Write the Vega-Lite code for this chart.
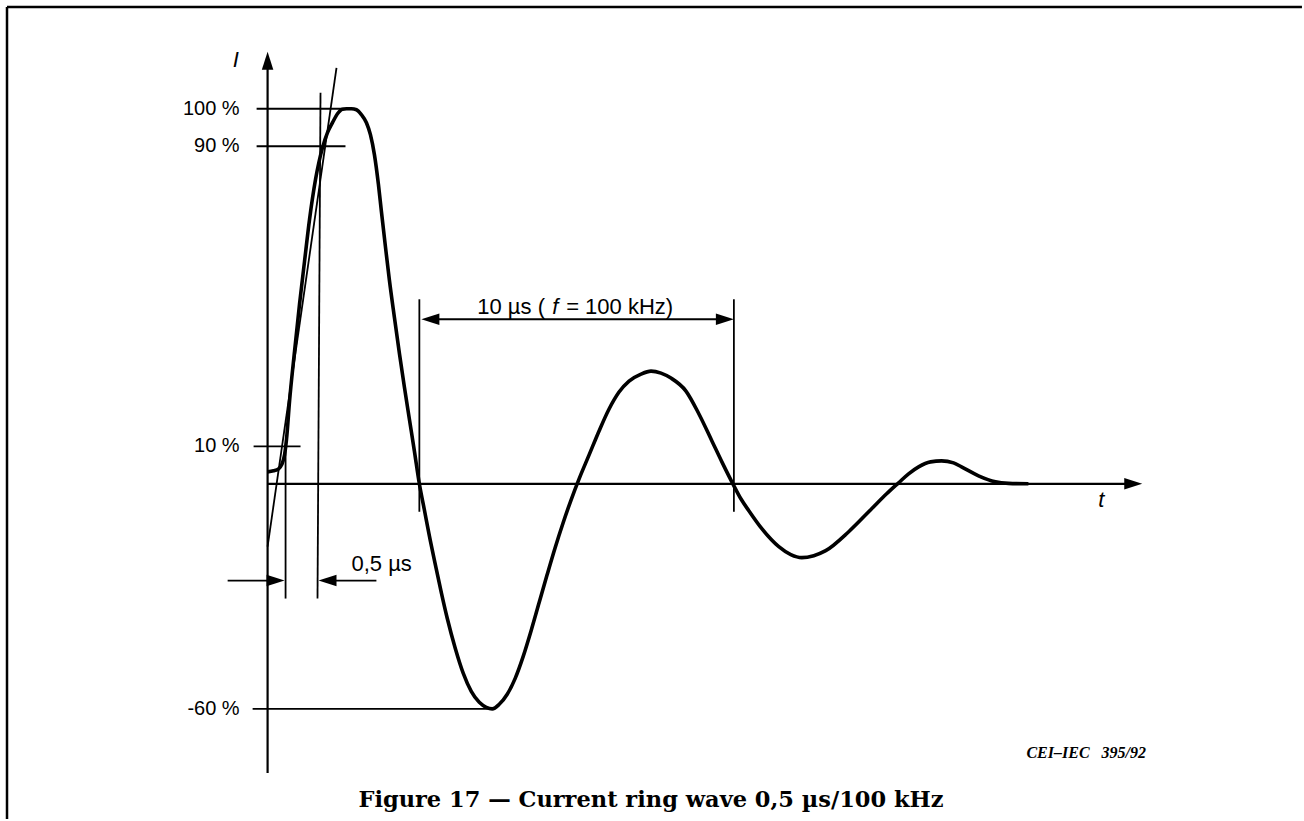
{
  "$schema": "https://vega.github.io/schema/vega-lite/v6.json",
  "width": 1304,
  "height": 821,
  "autosize": {"type": "fit", "contains": "padding"},
  "padding": 0,
  "background": "white",
  "config": {"view": {"stroke": null}},
  "datasets": {
    "frame": [
      {"x": -8.233, "y": -89.36, "x2": -8.233, "y2": 127.13},
      {"x": -8.233, "y": 127.13, "x2": 32.68, "y2": 127.13}
    ],
    "axes": [
      {"x": 0, "y": -77.13, "x2": 0, "y2": 113.03},
      {"x": 0, "y": 0, "x2": 27.19, "y2": 0}
    ],
    "guides": [
      {"x": -0.347, "y": 100, "x2": 2.650, "y2": 100},
      {"x": -0.347, "y": 90, "x2": 2.461, "y2": 90},
      {"x": -0.442, "y": 10, "x2": 1.041, "y2": 10},
      {"x": -0.473, "y": -60, "x2": 7.098, "y2": -60},
      {"x": 0, "y": -16.76, "x2": 2.177, "y2": 110.90},
      {"x": 0.568, "y": 10, "x2": 0.568, "y2": -30.59},
      {"x": 1.672, "y": 104.26, "x2": 1.577, "y2": -30.59},
      {"x": 4.795, "y": 49.20, "x2": 4.795, "y2": -7.45},
      {"x": 14.732, "y": 49.20, "x2": 14.732, "y2": -7.45},
      {"x": 5.2, "y": 43.88, "x2": 14.4, "y2": 43.88},
      {"x": -1.262, "y": -25.80, "x2": 0.3, "y2": -25.80},
      {"x": 1.85, "y": -25.80, "x2": 3.438, "y2": -25.80}
    ],
    "wave": [
      {"t": 0, "i": 3.19}, {"t": 0.189, "i": 3.46}, {"t": 0.347, "i": 3.99}, {"t": 0.442, "i": 5.05},
      {"t": 0.536, "i": 7.71}, {"t": 0.599, "i": 11.97}, {"t": 0.694, "i": 22.07}, {"t": 0.852, "i": 35.37},
      {"t": 1.009, "i": 47.87}, {"t": 1.167, "i": 59.31}, {"t": 1.325, "i": 70.48}, {"t": 1.514, "i": 81.12},
      {"t": 1.735, "i": 89.63}, {"t": 1.893, "i": 93.62}, {"t": 2.050, "i": 96.28}, {"t": 2.208, "i": 98.67},
      {"t": 2.366, "i": 99.87}, {"t": 2.492, "i": 100}, {"t": 2.650, "i": 100}, {"t": 2.808, "i": 99.73},
      {"t": 2.965, "i": 98.40}, {"t": 3.123, "i": 96.28}, {"t": 3.249, "i": 93.09}, {"t": 3.375, "i": 87.77},
      {"t": 3.502, "i": 79.79}, {"t": 3.596, "i": 72.61}, {"t": 3.722, "i": 63.30}, {"t": 3.849, "i": 54.26},
      {"t": 4.006, "i": 44.41}, {"t": 4.164, "i": 34.84}, {"t": 4.322, "i": 25.80}, {"t": 4.479, "i": 17.29},
      {"t": 4.637, "i": 8.78}, {"t": 4.795, "i": 0}, {"t": 4.953, "i": -6.91}, {"t": 5.110, "i": -13.83},
      {"t": 5.300, "i": -21.54}, {"t": 5.489, "i": -28.99}, {"t": 5.678, "i": -35.90}, {"t": 5.931, "i": -43.88},
      {"t": 6.183, "i": -50.53}, {"t": 6.435, "i": -55.32}, {"t": 6.688, "i": -58.24}, {"t": 6.909, "i": -59.57},
      {"t": 7.098, "i": -60}, {"t": 7.319, "i": -58.78}, {"t": 7.571, "i": -56.12}, {"t": 7.823, "i": -51.86},
      {"t": 8.076, "i": -46.01}, {"t": 8.328, "i": -39.10}, {"t": 8.580, "i": -31.65}, {"t": 8.833, "i": -24.20},
      {"t": 9.085, "i": -17.02}, {"t": 9.338, "i": -10.37}, {"t": 9.590, "i": -4.26}, {"t": 9.842, "i": 1.33},
      {"t": 10.158, "i": 7.71}, {"t": 10.473, "i": 14.10}, {"t": 10.789, "i": 19.95}, {"t": 11.104, "i": 24.47},
      {"t": 11.420, "i": 27.39}, {"t": 11.798, "i": 29.26}, {"t": 12.114, "i": 30.05}, {"t": 12.429, "i": 29.52},
      {"t": 12.744, "i": 28.19}, {"t": 13.218, "i": 24.73}, {"t": 13.628, "i": 18.62}, {"t": 14.038, "i": 11.44},
      {"t": 14.353, "i": 5.85}, {"t": 14.700, "i": 0}, {"t": 14.953, "i": -3.99}, {"t": 15.205, "i": -7.18},
      {"t": 15.615, "i": -11.97}, {"t": 16.151, "i": -16.76}, {"t": 16.530, "i": -18.88}, {"t": 16.877, "i": -19.68},
      {"t": 17.256, "i": -19.15}, {"t": 17.634, "i": -17.82}, {"t": 18.360, "i": -12.77}, {"t": 19.085, "i": -6.65},
      {"t": 19.558, "i": -2.66}, {"t": 19.937, "i": 0.27}, {"t": 20.252, "i": 2.66}, {"t": 20.568, "i": 4.52},
      {"t": 20.946, "i": 5.85}, {"t": 21.293, "i": 6.12}, {"t": 21.672, "i": 5.59}, {"t": 21.924, "i": 4.52},
      {"t": 22.461, "i": 2.13}, {"t": 22.997, "i": 0.53}, {"t": 23.407, "i": 0.13}, {"t": 24.038, "i": 0}
    ],
    "arrowsRight": [
      {"x": 27.634, "y": 0},
      {"x": 0.536, "y": -25.80},
      {"x": 14.732, "y": 43.88}
    ],
    "arrowsLeft": [
      {"x": 1.609, "y": -25.80},
      {"x": 4.858, "y": 43.88}
    ],
    "arrowsUp": [
      {"x": 0, "y": 115.16}
    ],
    "yLabels": [
      {"x": -0.883, "y": 100, "label": "100 %"},
      {"x": -0.883, "y": 90, "label": "90 %"},
      {"x": -0.883, "y": 10, "label": "10 %"},
      {"x": -0.883, "y": -60, "label": "-60 %"}
    ],
    "plainNotes": [
      {"x": 6.625, "y": 45.21, "label": "10 µs ("},
      {"x": 9.432, "y": 45.21, "label": "= 100 kHz)"},
      {"x": 2.650, "y": -23.14, "label": "0,5 µs"}
    ],
    "italicNotes": [
      {"x": -1.104, "y": 111.17, "label": "I"},
      {"x": 26.246, "y": -6.12, "label": "t"},
      {"x": 8.99, "y": 45.21, "label": "f"}
    ],
    "stamp": [
      {"x": 23.975, "y": -71.81, "label": "CEI–IEC\u00a0\u00a0\u00a0395/92"}
    ],
    "caption": [
      {"x": 12.114, "y": -84.31, "label": "Figure 17 — Current ring wave 0,5 µs/100 kHz"}
    ]
  },
  "layer": [
    {
      "data": {"name": "frame"},
      "mark": {"type": "rule", "color": "black", "strokeWidth": 2.5},
      "encoding": {
        "x": {"field": "x", "type": "quantitative", "scale": {"domain": [-8.4543, 32.6814], "nice": false, "zero": false}, "axis": null},
        "y": {"field": "y", "type": "quantitative", "scale": {"domain": [-89.3617, 128.9894], "nice": false, "zero": false}, "axis": null},
        "x2": {"field": "x2"},
        "y2": {"field": "y2"}
      }
    },
    {
      "data": {"name": "axes"},
      "mark": {"type": "rule", "color": "black", "strokeWidth": 2.2},
      "encoding": {
        "x": {"field": "x", "type": "quantitative", "axis": null},
        "y": {"field": "y", "type": "quantitative", "axis": null},
        "x2": {"field": "x2"},
        "y2": {"field": "y2"}
      }
    },
    {
      "data": {"name": "guides"},
      "mark": {"type": "rule", "color": "black", "strokeWidth": 1.8},
      "encoding": {
        "x": {"field": "x", "type": "quantitative", "axis": null},
        "y": {"field": "y", "type": "quantitative", "axis": null},
        "x2": {"field": "x2"},
        "y2": {"field": "y2"}
      }
    },
    {
      "data": {"name": "wave"},
      "mark": {"type": "line", "color": "black", "strokeWidth": 3.6, "interpolate": "monotone"},
      "encoding": {
        "x": {"field": "t", "type": "quantitative", "axis": null},
        "y": {"field": "i", "type": "quantitative", "axis": null}
      }
    },
    {
      "data": {"name": "arrowsRight"},
      "mark": {"type": "point", "filled": true, "color": "black", "opacity": 1, "size": 1296, "shape": "M0,0L-1,-0.32L-1,0.32Z"},
      "encoding": {
        "x": {"field": "x", "type": "quantitative", "axis": null},
        "y": {"field": "y", "type": "quantitative", "axis": null}
      }
    },
    {
      "data": {"name": "arrowsLeft"},
      "mark": {"type": "point", "filled": true, "color": "black", "opacity": 1, "size": 1296, "shape": "M0,0L1,-0.32L1,0.32Z"},
      "encoding": {
        "x": {"field": "x", "type": "quantitative", "axis": null},
        "y": {"field": "y", "type": "quantitative", "axis": null}
      }
    },
    {
      "data": {"name": "arrowsUp"},
      "mark": {"type": "point", "filled": true, "color": "black", "opacity": 1, "size": 1296, "shape": "M0,0L-0.32,1L0.32,1Z"},
      "encoding": {
        "x": {"field": "x", "type": "quantitative", "axis": null},
        "y": {"field": "y", "type": "quantitative", "axis": null}
      }
    },
    {
      "data": {"name": "yLabels"},
      "mark": {"type": "text", "font": "Liberation Sans", "fontSize": 20, "align": "right", "baseline": "middle", "color": "black"},
      "encoding": {
        "x": {"field": "x", "type": "quantitative", "axis": null},
        "y": {"field": "y", "type": "quantitative", "axis": null},
        "text": {"field": "label"}
      }
    },
    {
      "data": {"name": "plainNotes"},
      "mark": {"type": "text", "font": "Liberation Sans", "fontSize": 22, "align": "left", "baseline": "alphabetic", "color": "black"},
      "encoding": {
        "x": {"field": "x", "type": "quantitative", "axis": null},
        "y": {"field": "y", "type": "quantitative", "axis": null},
        "text": {"field": "label"}
      }
    },
    {
      "data": {"name": "italicNotes"},
      "mark": {"type": "text", "font": "Liberation Sans", "fontStyle": "italic", "fontSize": 22, "align": "left", "baseline": "alphabetic", "color": "black"},
      "encoding": {
        "x": {"field": "x", "type": "quantitative", "axis": null},
        "y": {"field": "y", "type": "quantitative", "axis": null},
        "text": {"field": "label"}
      }
    },
    {
      "data": {"name": "stamp"},
      "mark": {"type": "text", "font": "Liberation Serif", "fontStyle": "italic", "fontWeight": "bold", "fontSize": 16, "align": "left", "baseline": "middle", "color": "black"},
      "encoding": {
        "x": {"field": "x", "type": "quantitative", "axis": null},
        "y": {"field": "y", "type": "quantitative", "axis": null},
        "text": {"field": "label"}
      }
    },
    {
      "data": {"name": "caption"},
      "mark": {"type": "text", "font": "DejaVu Serif", "fontWeight": "bold", "fontSize": 22.5, "align": "center", "baseline": "middle", "color": "black"},
      "encoding": {
        "x": {"field": "x", "type": "quantitative", "axis": null},
        "y": {"field": "y", "type": "quantitative", "axis": null},
        "text": {"field": "label"}
      }
    }
  ]
}
